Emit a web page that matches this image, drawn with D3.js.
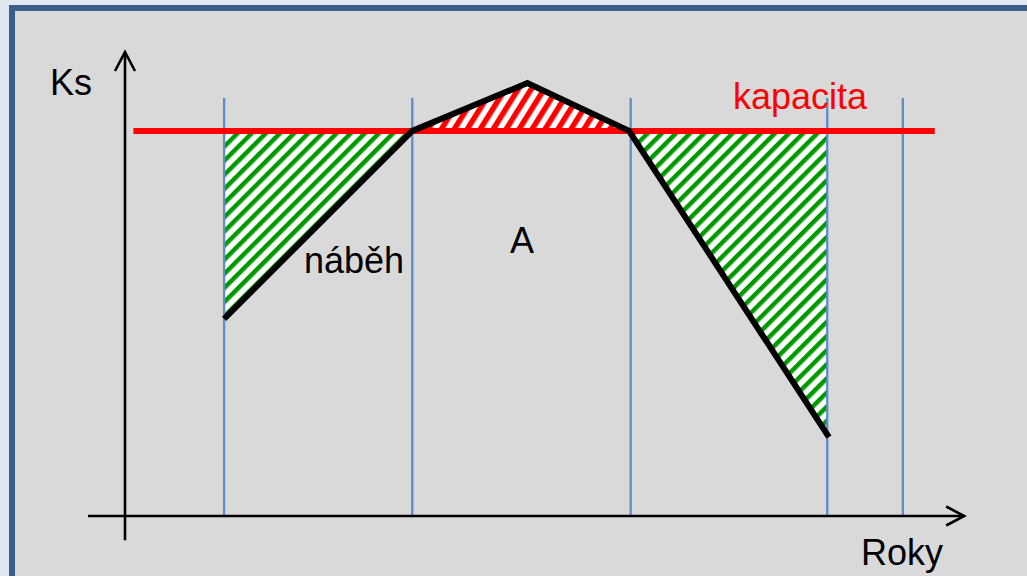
<!DOCTYPE html>
<html>
<head>
<meta charset="utf-8">
<script src="https://cdn.jsdelivr.net/npm/d3@7"></script>
<style>
html,body{margin:0;padding:0;background:#dfe7f1;}
svg{display:block;}
text{font-family:"Liberation Sans",Arial,sans-serif;}
</style>
</head>
<body>
<svg id="chart" width="1027" height="576"></svg>
<script>
// ---- data (chart units) ----
const capacity = 83;                       // "kapacita" level
const capacityRange = [1.0, 96.4];         // extent of the red line
const yearLines = [11.8, 34.2, 60.2, 83.6, 92.6];   // vertical year separators
const yearLineTop = 90.1;
const profileX = [11.8, 34.2, 47.9, 60.0, 83.8];    // black curve
const profileY = [42.5, 83.0, 93.3, 83.0, 17.0];
const labels = ["Ks", "Roky", "kapacita", "náběh", "A"];

const svg = d3.select("#chart");
const x = d3.scaleLinear().domain([0, 100]).range([125, 965]);
const y = d3.scaleLinear().domain([0, 100]).range([516, 52]);

// panel
svg.append("rect").attr("x", 12).attr("y", 8).attr("width", 1100).attr("height", 700)
  .attr("fill", "#d9d9d9").attr("stroke", "#3b5e8c").attr("stroke-width", 6);

// patterns
const defs = svg.append("defs");
function hatch(id, color, size, angle, frac) {
  const p = defs.append("pattern").attr("id", id).attr("patternUnits", "userSpaceOnUse")
    .attr("width", size).attr("height", size).attr("patternTransform", `rotate(${angle})`);
  p.append("rect").attr("width", size).attr("height", size).attr("fill", "#ffffff");
  p.append("rect").attr("width", size * frac).attr("height", size).attr("fill", color);
}
hatch("hg", "#009900", 10, 45, 0.45);
hatch("hr", "#ff0000", 11, 32, 0.5);

const pts = profileX.map((v, i) => [v, profileY[i]]);
const line = d3.line().x(d => x(d[0])).y(d => y(d[1]));

// hatched areas
const areas = [
  { fill: "url(#hg)", p: [[yearLines[0], capacity], [profileX[1], capacity], pts[0]] },
  { fill: "url(#hr)", p: [pts[1], pts[2], pts[3]] },
  { fill: "url(#hg)", p: [pts[3], [yearLines[3], capacity], [yearLines[3], profileY[4] + 0.5]] }
];
svg.selectAll("path.area").data(areas).join("path").attr("class", "area")
  .attr("d", d => line(d.p) + "Z").attr("fill", d => d.fill);

// vertical year lines
svg.selectAll("line.year").data(yearLines).join("line").attr("class", "year")
  .attr("x1", d => x(d)).attr("x2", d => x(d))
  .attr("y1", y(yearLineTop)).attr("y2", y(0))
  .attr("stroke", "#5b8dcb").attr("stroke-width", 2.3);

// capacity line
svg.append("line").attr("x1", x(capacityRange[0])).attr("x2", x(capacityRange[1]))
  .attr("y1", y(capacity)).attr("y2", y(capacity))
  .attr("stroke", "#ff0000").attr("stroke-width", 6);

// profile
svg.append("path").attr("d", line(pts)).attr("fill", "none")
  .attr("stroke", "#000").attr("stroke-width", 6).attr("stroke-linejoin", "miter");

// axes
const ax = svg.append("g").attr("stroke", "#000").attr("stroke-width", 2.6).attr("fill", "none");
ax.append("line").attr("x1", x(0)).attr("x2", x(0)).attr("y1", y(-5.2)).attr("y2", y(100));
ax.append("path").attr("d", `M${x(0) - 10},${y(100) + 19}L${x(0)},${y(100)}L${x(0) + 10},${y(100) + 19}`);
ax.append("line").attr("x1", x(-4.4)).attr("x2", x(99.9)).attr("y1", y(0)).attr("y2", y(0));
ax.append("path").attr("d", `M${x(99.9) - 18},${y(0) - 9.5}L${x(99.9)},${y(0)}L${x(99.9) - 18},${y(0) + 9.5}`);

// labels
const fs = 36;
svg.append("text").attr("x", 50).attr("y", 95).attr("font-size", fs).text(labels[0]);
svg.append("text").attr("x", 861).attr("y", 565).attr("font-size", fs).text(labels[1]);
svg.append("text").attr("x", 733).attr("y", 109).attr("font-size", fs).attr("fill", "#ff0000").text(labels[2]);
svg.append("text").attr("x", 304).attr("y", 273).attr("font-size", fs).text(labels[3]);
svg.append("text").attr("x", 510).attr("y", 253).attr("font-size", fs).text(labels[4]);
</script>
</body>
</html>
